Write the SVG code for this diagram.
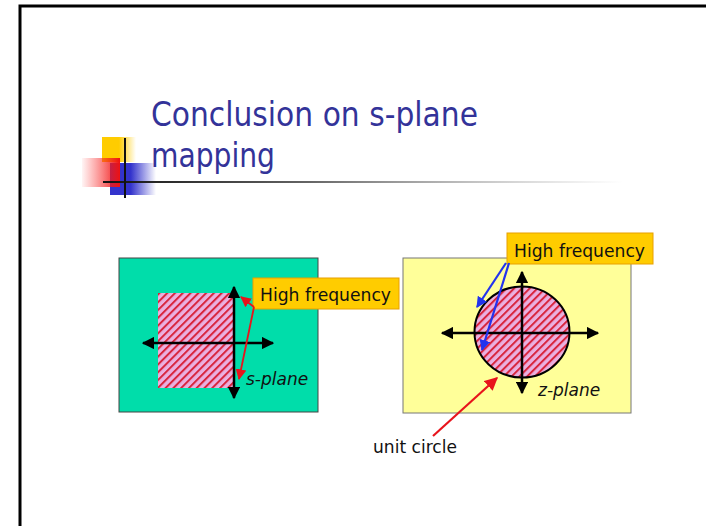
<svg xmlns="http://www.w3.org/2000/svg" width="706" height="526" viewBox="0 0 706 526">
<defs>
<style>
.t{font-family:"DejaVu Sans","Liberation Sans",sans-serif;}
.lbl{font-family:"DejaVu Sans","Liberation Sans",sans-serif;font-size:17px;fill:#111;}
.axis{stroke:#000;stroke-width:2.5;fill:none;}
</style>
<pattern id="hatch" width="5.5" height="5.5" patternUnits="userSpaceOnUse" patternTransform="rotate(45)">
<rect width="5.5" height="5.5" fill="#EAB0E0"/>
<rect width="2" height="5.5" fill="#D8243C"/>
</pattern>
<marker id="ab" viewBox="0 0 10 10" refX="9" refY="5" markerWidth="5" markerHeight="5" orient="auto-start-reverse" markerUnits="strokeWidth">
<path d="M0,0 L10,5 L0,10 z" fill="#000"/>
</marker>
<marker id="ar" viewBox="0 0 10 10" refX="9" refY="5" markerWidth="6" markerHeight="6" orient="auto" markerUnits="strokeWidth">
<path d="M0,0 L10,5 L0,10 z" fill="#E8141C"/>
</marker>
<marker id="abl" viewBox="0 0 10 10" refX="9" refY="5" markerWidth="5" markerHeight="5" orient="auto" markerUnits="strokeWidth">
<path d="M0,0 L10,5 L0,10 z" fill="#2233EE"/>
</marker>
<linearGradient id="gy" x1="0" x2="1"><stop offset="0.5" stop-color="#FFCC00"/><stop offset="1" stop-color="#FFCC00" stop-opacity="0"/></linearGradient>
<linearGradient id="gr" x1="0" x2="1"><stop offset="0" stop-color="#FF3333" stop-opacity="0.05"/><stop offset="1" stop-color="#EE1111"/></linearGradient>
<linearGradient id="gb" x1="0" x2="1"><stop offset="0.45" stop-color="#3333CC"/><stop offset="1" stop-color="#3333CC" stop-opacity="0"/></linearGradient>
<linearGradient id="gl" x1="0" x2="1"><stop offset="0" stop-color="#111"/><stop offset="0.4" stop-color="#666"/><stop offset="1" stop-color="#999" stop-opacity="0"/></linearGradient>
</defs>
<rect width="706" height="526" fill="#fff"/>
<path d="M20,526 L20,6 L706,6" fill="none" stroke="#000" stroke-width="3"/>

<g id="logo">
<rect x="102" y="137" width="34" height="25" fill="url(#gy)"/>
<rect x="110" y="163" width="46" height="32" fill="url(#gb)"/>
<rect x="82" y="158" width="38" height="29" fill="url(#gr)"/>
<rect x="103" y="181" width="520" height="2" fill="url(#gl)"/>
<rect x="124" y="138" width="2" height="60" fill="#111"/>
</g>

<g id="title">
<text class="t" x="151" y="126" font-size="33" fill="#333399" textLength="327" lengthAdjust="spacingAndGlyphs">Conclusion on s-plane</text>
<text class="t" x="151" y="167" font-size="33" fill="#333399" textLength="124" lengthAdjust="spacingAndGlyphs">mapping</text>
</g>

<g id="s-plane">
<rect x="119" y="258" width="199" height="154" fill="#00DDAA" stroke="#444" stroke-width="1"/>
<rect x="158" y="293" width="76" height="95" fill="url(#hatch)"/>
<line class="axis" x1="234" y1="398" x2="234" y2="287" marker-start="url(#ab)" marker-end="url(#ab)"/>
<line class="axis" x1="143" y1="343" x2="273" y2="343" marker-start="url(#ab)" marker-end="url(#ab)"/>
<text class="lbl" x="246" y="385" font-style="italic" fill="#0d2a2a">s-plane</text>
</g>

<g id="z-plane">
<rect x="403" y="258" width="228" height="155" fill="#FFFF99" stroke="#777" stroke-width="1"/>
<ellipse cx="522" cy="332" rx="47.5" ry="45.5" fill="url(#hatch)" stroke="#000" stroke-width="2"/>
<line class="axis" x1="522" y1="393" x2="522" y2="272" marker-start="url(#ab)" marker-end="url(#ab)"/>
<line class="axis" x1="442" y1="333" x2="598" y2="333" marker-start="url(#ab)" marker-end="url(#ab)"/>
<text class="lbl" x="538" y="396" font-style="italic">z-plane</text>
</g>

<g id="hf-left">
<rect x="253" y="278" width="146" height="31" fill="#FFCC00" stroke="#E8A000" stroke-width="1"/>
<text class="lbl" x="260" y="301" textLength="131" lengthAdjust="spacingAndGlyphs">High frequency</text>
</g>

<g id="hf-right">
<rect x="507" y="233" width="146" height="31" fill="#FFCC00" stroke="#E8A000" stroke-width="1"/>
<text class="lbl" x="514" y="257" textLength="131" lengthAdjust="spacingAndGlyphs">High frequency</text>
</g>

<g id="unit-circle">
<text class="lbl" x="373" y="453" textLength="84" lengthAdjust="spacingAndGlyphs">unit circle</text>
</g>

<g id="connectors">
<line x1="254" y1="307" x2="241" y2="297" stroke="#E8141C" stroke-width="1.8" marker-end="url(#ar)"/>
<line x1="254" y1="307" x2="239" y2="379" stroke="#E8141C" stroke-width="1.8" marker-end="url(#ar)"/>
<line x1="506" y1="263" x2="477" y2="307" stroke="#2233EE" stroke-width="2.2" marker-end="url(#abl)"/>
<line x1="509" y1="263" x2="482" y2="350" stroke="#2233EE" stroke-width="2.2" marker-end="url(#abl)"/>
<line x1="433" y1="436" x2="497" y2="378" stroke="#E8141C" stroke-width="2.2" marker-end="url(#ar)"/>
</g>
</svg>
